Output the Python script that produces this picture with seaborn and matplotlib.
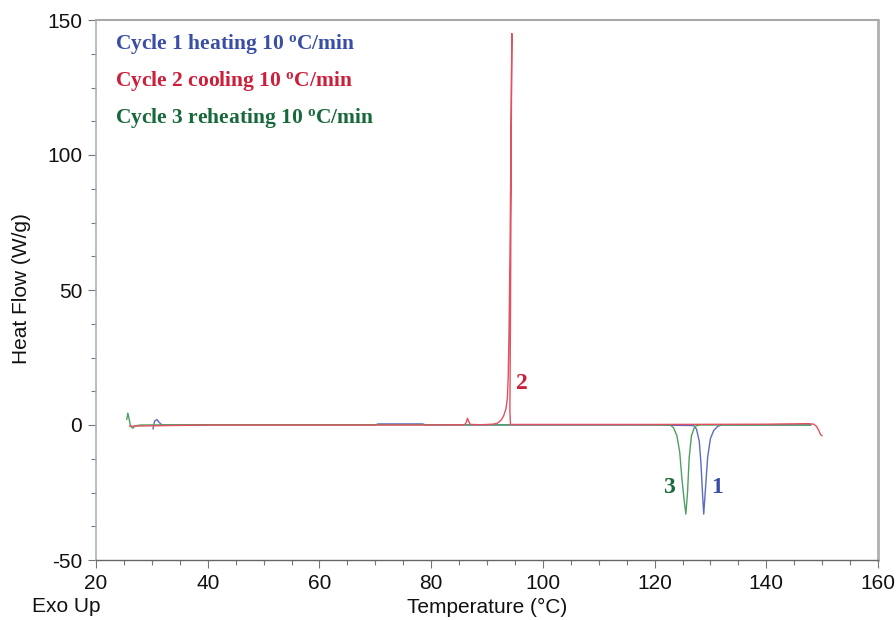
import numpy as np
import pandas as pd
import matplotlib
matplotlib.use("Agg")
import matplotlib.pyplot as plt
from matplotlib.ticker import MultipleLocator
import seaborn as sns

# ---------------- data ----------------
# Cycle 1 heating (blue)
t1 = [30.2, 30.5, 30.9, 31.3, 31.8, 33.0, 50.0, 70.0, 70.5, 78.5, 79.0, 100.0,
      120.0, 127.0, 127.5, 128.0, 128.3, 128.6, 128.8, 129.1, 129.5, 130.0,
      130.6, 131.3, 132.0, 140.0, 148.0]
h1 = [-1.5, 1.5, 2.0, 1.0, 0.0, 0.0, 0.0, 0.0, 0.4, 0.4, 0.0, 0.0,
      0.0, -0.2, -1.5, -6.0, -14.0, -26.0, -33.0, -24.0, -12.0, -5.0,
      -2.0, -0.5, 0.0, 0.0, 0.0]

# Cycle 2 cooling (red)
t2 = [150.0, 149.7, 149.4, 149.0, 148.5, 147.5, 140.0, 120.0, 100.0, 95.0,
      94.2, 94.1, 94.2, 94.35, 94.45, 94.35, 94.15, 93.95, 93.8, 93.65,
      93.4, 93.0, 92.6, 92.2, 91.8, 91.0, 89.0, 87.0, 86.7, 86.5, 86.3,
      86.0, 80.0, 60.0, 40.0, 30.0, 27.0, 26.0]
h2 = [-4.0, -3.5, -2.0, -0.5, 0.3, 0.5, 0.3, 0.2, 0.2, 0.2,
      0.2, 5.0, 40.0, 110.0, 145.0, 120.0, 70.0, 35.0, 18.0, 10.0,
      6.0, 3.5, 2.0, 1.2, 0.6, 0.3, 0.1, 0.2, 1.5, 2.5, 1.0,
      0.1, 0.0, 0.0, 0.0, -0.3, -0.4, -0.4]

# Cycle 3 reheating (green)
t3 = [25.5, 25.7, 25.9, 26.2, 26.6, 27.0, 28.0, 40.0, 60.0, 80.0, 100.0,
      115.0, 122.8, 123.4, 124.0, 124.5, 124.9, 125.3, 125.6, 125.9, 126.2,
      126.6, 127.2, 128.0, 130.0, 140.0, 148.0]
h3 = [2.0, 4.4, 2.5, -0.5, -1.2, -0.3, 0.0, 0.1, 0.1, 0.1, 0.1,
      0.1, 0.0, -1.0, -4.0, -10.0, -20.0, -28.0, -33.0, -25.0, -12.0,
      -4.0, -0.5, 0.0, 0.0, 0.0, 0.0]

legend_labels = ["Cycle 1 heating 10 $^{\\mathbf{o}}$C/min",
                 "Cycle 2 cooling 10 $^{\\mathbf{o}}$C/min",
                 "Cycle 3 reheating 10 $^{\\mathbf{o}}$C/min"]
peak_labels = ["1", "2", "3"]
x_ticks = [20, 40, 60, 80, 100, 120, 140, 160]
y_ticks = [-50, 0, 50, 100, 150]

# ---------------- style ----------------
sns.set_style("white")
plt.rcParams["font.family"] = ["Liberation Sans", "DejaVu Sans"]
plt.rcParams["axes.unicode_minus"] = False
plt.rcParams["mathtext.fontset"] = "custom"
plt.rcParams["mathtext.rm"] = "Liberation Serif:bold"
plt.rcParams["mathtext.bf"] = "Liberation Serif:bold"
plt.rcParams["mathtext.it"] = "Liberation Serif:bold"

line_blue = "#5a6cc4"
line_red = "#e4505e"
line_green = "#4ea060"
txt_blue = "#3a4ea6"
txt_red = "#cc1f3a"
txt_green = "#17683a"

fig = plt.figure(figsize=(8.96, 6.2), dpi=100)
ax = fig.add_axes([96 / 896, 60 / 620, 782 / 896, 540 / 620])

df1 = pd.DataFrame({"T": t1, "H": h1})
df2 = pd.DataFrame({"T": t2, "H": h2})
df3 = pd.DataFrame({"T": t3, "H": h3})

sns.lineplot(data=df1, x="T", y="H", sort=False, estimator=None, ax=ax,
             color=line_blue, lw=1.0)
sns.lineplot(data=df3, x="T", y="H", sort=False, estimator=None, ax=ax,
             color=line_green, lw=1.0)
sns.lineplot(data=df2, x="T", y="H", sort=False, estimator=None, ax=ax,
             color=line_red, lw=1.0)

ax.set_xlim(20, 160)
ax.set_ylim(-50, 150)
ax.set_xticks(x_ticks)
ax.set_yticks(y_ticks)
ax.xaxis.set_minor_locator(MultipleLocator(5))
ax.yaxis.set_minor_locator(MultipleLocator(12.5))
ax.tick_params(axis="both", which="major", direction="out", length=6,
               width=0.8, color="#777777", labelsize=15, labelcolor="#111111",
               bottom=True, left=True, pad=4)
ax.tick_params(axis="both", which="minor", direction="out", length=3.5,
               width=0.8, color="#777777", bottom=True, left=True)

ax.spines["left"].set_color("#a4b4c4")
ax.spines["bottom"].set_color("#666666")
ax.spines["top"].set_color("#a8a8a8")
ax.spines["right"].set_color("#b0b0b0")
ax.spines["top"].set_linewidth(1.5)
ax.spines["right"].set_linewidth(2.0)
ax.spines["left"].set_linewidth(1.2)
ax.spines["bottom"].set_linewidth(1.0)

ax.set_xlabel("Temperature (°C)", fontsize=15, color="#111111")
ax.set_ylabel("Heat Flow (W/g)", fontsize=15, color="#111111")
ax.xaxis.set_label_coords((487 - 96) / 782, -(598 - 560) / 540)
ax.yaxis.set_label_coords(-(96 - 31) / 782, (560 - 289) / 540)
fig.text(32 / 896, 1 - 607 / 620, "Exo Up", fontsize=15, color="#111111",
         ha="left", va="center")

# legend-like colored texts
for i, (lab, col) in enumerate(zip(legend_labels, [txt_blue, txt_red, txt_green])):
    ax.text((115 - 96) / 782, (560 - [44, 81, 118][i]) / 540, lab,
            transform=ax.transAxes, fontsize=15.5, color=col,
            family="Liberation Serif", fontweight="bold", ha="left", va="center")

# peak labels
serif_bold = dict(family="Liberation Serif", fontweight="bold", fontsize=17,
                  ha="center", va="center")
ax.text(96.2, 15.5, peak_labels[1], color=txt_red, **serif_bold)
ax.text(122.6, -23.0, peak_labels[2], color=txt_green, **serif_bold)
ax.text(131.2, -23.0, peak_labels[0], color=txt_blue, **serif_bold)

fig.savefig("out.png", dpi=100)
